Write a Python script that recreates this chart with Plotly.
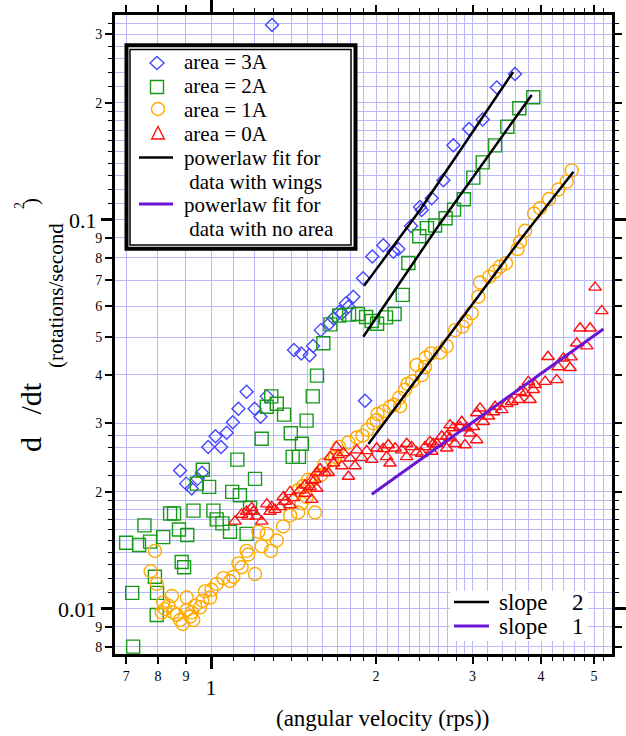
import plotly.graph_objects as go
import math

# ---------------- data ----------------
x_3A = [1.292, 3.586, 3.322, 3.131, 2.957, 2.768, 2.654, 2.527, 2.406, 2.423,
        2.317, 2.197, 2.151, 2.062, 1.969, 1.894, 1.818, 1.763, 1.715, 1.672,
        1.644, 1.586, 1.535, 1.513, 1.461, 1.417, 1.910, 1.781, 1.732, 1.264,
        1.231, 1.201, 1.161, 1.122, 1.096, 1.068, 1.043, 1.019, 0.988, 0.878,
        0.901, 0.922, 0.945, 0.963]
y_3A = [0.317, 0.2374, 0.219, 0.1813, 0.1714, 0.1557, 0.1266, 0.1137, 0.1080, 0.1061,
        0.0965, 0.0842, 0.0829, 0.0861, 0.0806, 0.0708, 0.0635, 0.0611, 0.0581, 0.0559,
        0.0542, 0.0521, 0.0474, 0.0449, 0.0454, 0.0463, 0.0343, 0.0598, 0.0576, 0.0352,
        0.0312, 0.0327, 0.0362, 0.0327, 0.0302, 0.0284, 0.0261, 0.0278, 0.0261, 0.0227,
        0.0210, 0.0204, 0.0216, 0.0224]

x_2A = [3.873, 3.652, 3.472, 3.298, 3.131, 3.010, 2.893, 2.776, 2.679, 2.563,
        2.478, 2.398, 2.291, 2.238, 2.162, 2.086, 2.009, 1.964, 1.918, 1.854,
        1.786, 1.713, 1.651, 1.603, 1.561, 1.533, 1.494, 1.465, 1.447, 1.409,
        1.398, 1.359, 1.318, 1.288, 1.264, 1.237, 1.117, 1.203, 0.992, 0.966,
        0.942, 1.093, 1.129, 1.178, 1.010, 1.024, 1.049, 1.083, 1.161, 0.842,
        0.856, 0.929, 0.874, 0.905, 0.756, 0.818, 0.774, 0.739, 0.700, 0.884,
        0.893, 0.790, 0.797, 0.718, 0.796, 0.721]
y_2A = [0.2068, 0.1937, 0.1736, 0.1555, 0.1406, 0.1285, 0.1131, 0.1063, 0.1010, 0.0968,
        0.0953, 0.0908, 0.0775, 0.0642, 0.0573, 0.0562, 0.0541, 0.0550, 0.0563, 0.0573,
        0.0571, 0.0568, 0.0539, 0.0482, 0.0398, 0.0352, 0.0305, 0.0266, 0.0246, 0.0246,
        0.0283, 0.0316, 0.0337, 0.0352, 0.0331, 0.0274, 0.0242, 0.0216, 0.0206, 0.0228,
        0.0210, 0.0200, 0.0196, 0.0182, 0.0179, 0.0170, 0.0166, 0.0158, 0.0156, 0.0176,
        0.0176, 0.0179, 0.0160, 0.0155, 0.0164, 0.0153, 0.0149, 0.0146, 0.0148, 0.0132,
        0.0128, 0.0121, 0.0110, 0.0110, 0.00965, 0.00800]

x_1A = [4.552, 4.457, 4.303, 4.138, 3.984, 3.885, 3.741, 3.663, 3.624, 3.453,
        3.368, 3.298, 3.220, 3.096, 3.074, 2.990, 2.919, 2.877, 2.788, 2.692,
        2.617, 2.520, 2.465, 2.457, 2.373, 2.423, 2.329, 2.283, 2.259, 2.204,
        2.213, 2.158, 2.121, 2.062, 2.013, 2.006, 1.977, 1.930, 1.890, 1.845,
        1.781, 1.713, 1.684, 1.661, 1.608, 1.588, 1.535, 1.504, 1.472, 1.442,
        1.463, 1.494, 1.548, 1.394, 1.442, 1.354, 1.318, 1.286, 1.264, 1.237,
        1.220, 1.203, 1.169, 1.161, 1.137, 1.122, 1.098, 1.083, 1.053, 1.024,
        1.002, 0.975, 0.996, 0.964, 0.955, 0.935, 0.922, 0.903, 0.903, 0.928,
        0.916, 0.888, 0.878, 0.866, 0.853, 0.848, 0.836, 0.824, 0.813, 0.818,
        0.796, 0.776, 0.790]
y_1A = [0.1341, 0.1255, 0.1198, 0.1132, 0.1072, 0.1039, 0.0938, 0.0879, 0.0842, 0.0774,
        0.0759, 0.0737, 0.0715, 0.0691, 0.0635, 0.0576, 0.0550, 0.0532, 0.0521, 0.0474,
        0.0456, 0.0454, 0.0443, 0.0419, 0.0424, 0.0399, 0.0385, 0.0379, 0.0366, 0.0349,
        0.0332, 0.0335, 0.0331, 0.0322, 0.0317, 0.0306, 0.0300, 0.0289, 0.0279, 0.0276,
        0.0268, 0.0261, 0.0246, 0.0242, 0.0235, 0.0221, 0.0215, 0.0215, 0.0207, 0.0202,
        0.0187, 0.0194, 0.0177, 0.0174, 0.0177, 0.0163, 0.0150, 0.0141, 0.0156, 0.0145,
        0.0158, 0.0123, 0.0138, 0.0141, 0.0128, 0.0131, 0.0121, 0.0118, 0.0120, 0.0116,
        0.0112, 0.0111, 0.0107, 0.0105, 0.0101, 0.0102, 0.0098, 0.0107, 0.00994, 0.00937,
        0.00956, 0.00915, 0.00937, 0.00966, 0.0098, 0.0108, 0.0102, 0.0100, 0.0098, 0.0104,
        0.0116, 0.0125, 0.0141]

x_0A = [5.020, 5.164, 4.714, 4.916, 4.848, 4.648, 4.538, 4.519, 4.395, 4.297,
        4.120, 4.273, 4.069, 3.901, 3.793, 3.874, 3.741, 3.820, 3.663, 3.637,
        3.537, 3.463, 3.392, 3.298, 3.275, 3.206, 3.096, 3.139, 3.053, 3.053,
        3.010, 2.969, 2.928, 2.867, 2.847, 2.907, 2.788, 2.768, 2.729, 2.729,
        2.692, 2.692, 2.636, 2.581, 2.544, 2.527, 2.509, 2.457, 2.423, 2.373,
        2.323, 2.275, 2.275, 2.228, 2.167, 2.121, 2.106, 2.092, 2.062, 2.006,
        1.964, 1.923, 1.883, 1.845, 1.831, 1.793, 1.744, 1.707, 1.695, 1.672,
        1.649, 1.637, 1.732, 1.781, 1.581, 1.614, 1.559, 1.548, 1.527, 1.484,
        1.516, 1.453, 1.484, 1.559, 1.527, 1.413, 1.394, 1.394, 1.365, 1.355,
        1.336, 1.308, 1.290, 1.281, 1.264, 1.237, 1.211, 1.194, 1.186, 1.169,
        1.161, 1.137, 1.106]
y_0A = [0.0671, 0.0584, 0.0527, 0.0527, 0.0474, 0.0482, 0.0444, 0.0417, 0.0441, 0.0419,
        0.0445, 0.0388, 0.0384, 0.0377, 0.0384, 0.0366, 0.0359, 0.0345, 0.0362, 0.0345,
        0.0341, 0.0337, 0.0325, 0.0331, 0.0321, 0.0313, 0.0328, 0.0303, 0.0319, 0.0272,
        0.0294, 0.0283, 0.0292, 0.0303, 0.0294, 0.0264, 0.0266, 0.0292, 0.0297, 0.0275,
        0.0259, 0.0278, 0.0278, 0.0266, 0.0266, 0.0254, 0.0269, 0.0261, 0.0251, 0.0253,
        0.0261, 0.0246, 0.0266, 0.0256, 0.0259, 0.0237, 0.0264, 0.0246, 0.0258, 0.0259,
        0.0242, 0.0255, 0.0245, 0.0256, 0.0233, 0.0244, 0.0252, 0.0249, 0.0261, 0.0237,
        0.0246, 0.0224, 0.0233, 0.0219, 0.0229, 0.0224, 0.0224, 0.0215, 0.0214, 0.0208,
        0.0206, 0.0202, 0.0198, 0.0204, 0.0191, 0.0193, 0.0200, 0.0185, 0.0189, 0.0194,
        0.0183, 0.0180, 0.0183, 0.0178, 0.0186, 0.0168, 0.0173, 0.0178, 0.0182, 0.0173,
        0.0178, 0.0175, 0.0168]

# power-law fit lines
fit3A_x = [1.902, 2.406, 3.557]
fit3A_y = [0.0677, 0.1061, 0.2402]
fit2A_x = [1.896, 2.617, 3.847]
fit2A_y = [0.0501, 0.0980, 0.2096]
fit1A_x = [1.937, 3.664, 4.584]
fit1A_y = [0.02655, 0.0888, 0.1331]
fit0A_x = [1.965, 3.664, 5.199]
fit0A_y = [0.01971, 0.0369, 0.05246]

# legend texts
legend_main = ['area = 3A', 'area = 2A', 'area = 1A', 'area = 0A',
               'powerlaw fit for', ' data with wings',
               'powerlaw fit for', ' data with no area']
legend_slope_label = 'slope'
legend_slope_values = ['2', '1']

# axis ticks / grid
x_range_vals = [0.668, 5.39]
y_range_vals = [0.00766, 0.3365]
x_label_vals = [0.7, 0.8, 0.9, 2, 3, 4, 5]
x_label_text = ['7', '8', '9', '2', '3', '4', '5']
x_major_vals = [1]
x_major_text = ['1']
x_minor_vals = [1.1, 1.2, 1.3, 1.4, 1.5, 1.6, 1.7, 1.8, 1.9, 2.2, 2.4, 2.6, 2.8,
                3.2, 3.4, 3.6, 3.8, 4.2, 4.4, 4.6, 4.8, 5.2]
x_grid_vals = ([0.7, 0.8, 0.9] + [round(1.0 + 0.1 * i, 2) for i in range(21)]
               + [3.2, 3.4, 3.6, 3.8, 4.0, 4.2, 4.4, 4.6, 4.8, 5.0, 5.2])

y_label_vals = [0.008, 0.009, 0.02, 0.03, 0.04, 0.05, 0.06, 0.07, 0.08, 0.09, 0.2, 0.3]
y_label_text = ['8', '9', '2', '3', '4', '5', '6', '7', '8', '9', '2', '3']
y_major_vals = [0.01, 0.1]
y_major_text = ['0.01', '0.1']
y_minor_vals = ([0.011, 0.012, 0.013, 0.014, 0.015, 0.016, 0.017, 0.018, 0.019]
                + [0.022, 0.024, 0.026, 0.028]
                + [0.11, 0.12, 0.13, 0.14, 0.15, 0.16, 0.17, 0.18, 0.19]
                + [0.22, 0.24, 0.26, 0.28, 0.32])
y_grid_vals = ([0.008, 0.009, 0.010, 0.011, 0.012, 0.013, 0.014, 0.015, 0.016, 0.017, 0.018, 0.019]
               + [0.020, 0.022, 0.024, 0.026, 0.028]
               + [0.03, 0.04, 0.05, 0.06, 0.07, 0.08, 0.09]
               + [0.10, 0.11, 0.12, 0.13, 0.14, 0.15, 0.16, 0.17, 0.18, 0.19]
               + [0.20, 0.22, 0.24, 0.26, 0.28, 0.30, 0.32])

# ---------------- styling ----------------
FONT = "Liberation Serif"
W, H = 626, 736
ML, MR, MT, MB = 115, 14, 15, 82
PW, PH = W - ML - MR, H - MT - MB


def px_x(px):
    return (px - ML) / PW


def px_y(py):
    return (H - MB - py) / PH


xr = [math.log10(v) for v in x_range_vals]
yr = [math.log10(v) for v in y_range_vals]

BLUE = '#4646ff'
GREEN = '#179a17'
ORANGE = '#ffaa00'
RED = '#ff1010'
PURPLE = '#6a16d2'
GRID = '#b9b9fb'

fig = go.Figure()


def add_markers(x, y, name, symbol, color, size):
    fig.add_trace(go.Scatter(
        x=x, y=y, mode='markers', name=name, showlegend=False,
        marker=dict(symbol=symbol, size=size, color=color, line=dict(color=color, width=1.4))))


add_markers(x_3A, y_3A, 'area = 3A', 'diamond-open', BLUE, 10)
add_markers(x_2A, y_2A, 'area = 2A', 'square-open', GREEN, 13)
add_markers(x_1A, y_1A, 'area = 1A', 'circle-open', ORANGE, 13)
add_markers(x_0A, y_0A, 'area = 0A', 'triangle-up-open', RED, 11)

for fx, fy, nm, col, wd in [(fit3A_x, fit3A_y, 'powerlaw fit (3A)', 'black', 2.5),
                            (fit2A_x, fit2A_y, 'powerlaw fit (2A)', 'black', 2.5),
                            (fit1A_x, fit1A_y, 'powerlaw fit (1A)', 'black', 2.5),
                            (fit0A_x, fit0A_y, 'powerlaw fit (0A)', PURPLE, 3)]:
    fig.add_trace(go.Scatter(x=fx, y=fy, mode='lines', name=nm, showlegend=False,
                             line=dict(color=col, width=wd)))

# empty helper traces so the overlaying tick axes are drawn
for xa, ya in [('x2', 'y'), ('x3', 'y'), ('x', 'y2'), ('x', 'y3')]:
    fig.add_trace(go.Scatter(x=[None], y=[None], xaxis=xa, yaxis=ya, mode='markers',
                             showlegend=False, hoverinfo='skip'))

tickfont_small = dict(family=FONT, size=14, color='black')
tickfont_big = dict(family=FONT, size=22, color='black')

fig.update_layout(
    width=W, height=H,
    margin=dict(l=ML, r=MR, t=MT, b=MB, autoexpand=False),
    paper_bgcolor='white', plot_bgcolor='white',
    font=dict(family=FONT, color='black'),
    showlegend=False,
    xaxis=dict(type='log', range=xr, tickmode='array', tickvals=x_grid_vals,
               showticklabels=False, ticks='', showgrid=True, gridcolor=GRID,
               gridwidth=1, zeroline=False, showline=False, automargin=False),
    yaxis=dict(type='log', range=yr, tickmode='array', tickvals=y_grid_vals,
               showticklabels=False, ticks='', showgrid=True, gridcolor=GRID,
               gridwidth=1, zeroline=False, showline=False, automargin=False),
    xaxis2=dict(type='log', range=xr, overlaying='x', anchor='y', side='bottom',
                tickmode='array', tickvals=x_label_vals, ticktext=x_label_text,
                ticks='outside', ticklen=7, tickwidth=1.5, tickcolor='black',
                showline=True, linewidth=3, linecolor='black', mirror='ticks',
                showgrid=False, zeroline=False, tickfont=tickfont_small, automargin=False,
                minor=dict(tickmode='array', tickvals=x_minor_vals, ticks='outside',
                           ticklen=4, tickwidth=1.2, tickcolor='black', showgrid=False)),
    xaxis3=dict(type='log', range=xr, overlaying='x', anchor='y', side='bottom',
                tickmode='array', tickvals=x_major_vals, ticktext=x_major_text,
                ticks='outside', ticklen=14, tickwidth=2.5, tickcolor='black',
                showline=False, mirror='ticks', showgrid=False, zeroline=False,
                tickfont=tickfont_big, automargin=False),
    yaxis2=dict(type='log', range=yr, overlaying='y', anchor='x', side='left',
                tickmode='array', tickvals=y_label_vals, ticktext=y_label_text,
                ticks='outside', ticklen=7, tickwidth=1.5, tickcolor='black',
                showline=True, linewidth=3, linecolor='black', mirror='ticks',
                showgrid=False, zeroline=False, tickfont=tickfont_small, automargin=False,
                minor=dict(tickmode='array', tickvals=y_minor_vals, ticks='outside',
                           ticklen=4, tickwidth=1.2, tickcolor='black', showgrid=False)),
    yaxis3=dict(type='log', range=yr, overlaying='y', anchor='x', side='left',
                tickmode='array', tickvals=y_major_vals, ticktext=y_major_text,
                ticks='outside', ticklen=13, tickwidth=2.5, tickcolor='black',
                showline=False, mirror='ticks', showgrid=False, zeroline=False,
                tickfont=tickfont_big, automargin=False),
)


def shp(**kw):
    kw.setdefault('xref', 'paper')
    kw.setdefault('yref', 'paper')
    kw.setdefault('layer', 'above')
    fig.add_shape(**kw)


def ann(text, px, py, size, anchor='left', angle=0):
    fig.add_annotation(text=text, xref='paper', yref='paper', x=px_x(px), y=px_y(py),
                       xanchor=anchor, yanchor='middle', showarrow=False, textangle=angle,
                       font=dict(family=FONT, size=size, color='black'))


def path(points):
    return 'M ' + ' L '.join('%.5f,%.5f' % (px_x(a), px_y(b)) for a, b in points) + ' Z'


# ---- main legend: double-bordered white box ----
shp(type='rect', x0=px_x(126.5), x1=px_x(355.5), y0=px_y(248.8), y1=px_y(45.3),
    line=dict(color='black', width=4), fillcolor='white')
shp(type='rect', x0=px_x(130), x1=px_x(351), y0=px_y(245), y1=px_y(49.5),
    line=dict(color='black', width=1.5), fillcolor='rgba(0,0,0,0)')
# legend symbols
shp(type='path', path=path([(150, 63), (157, 56.5), (164, 63), (157, 69.5)]),
    line=dict(color=BLUE, width=1.4))
shp(type='rect', x0=px_x(150.5), x1=px_x(163.5), y0=px_y(93.5), y1=px_y(80.5),
    line=dict(color=GREEN, width=1.4))
shp(type='circle', x0=px_x(151.5), x1=px_x(164.5), y0=px_y(115.5), y1=px_y(102.5),
    line=dict(color=ORANGE, width=1.4))
shp(type='path', path=path([(158, 126.5), (164.3, 139), (151.7, 139)]),
    line=dict(color=RED, width=1.4))
shp(type='line', x0=px_x(139), x1=px_x(173), y0=px_y(157.5), y1=px_y(157.5),
    line=dict(color='black', width=2.5))
shp(type='line', x0=px_x(139), x1=px_x(173), y0=px_y(204), y1=px_y(204),
    line=dict(color=PURPLE, width=3))
for txt, yy in zip(legend_main, [62, 86, 110, 134, 158, 181.5, 205, 228.5]):
    ann(txt, 182, yy, 21)

# ---- slope legend ----
shp(type='rect', x0=px_x(450), x1=px_x(588), y0=px_y(641), y1=px_y(591),
    line=dict(width=0), fillcolor='white')
shp(type='line', x0=px_x(454), x1=px_x(489), y0=px_y(602), y1=px_y(602),
    line=dict(color='black', width=2.5))
shp(type='line', x0=px_x(454), x1=px_x(489), y0=px_y(626), y1=px_y(626),
    line=dict(color=PURPLE, width=3))
for val, yy in zip(legend_slope_values, [602, 626]):
    ann(legend_slope_label, 497, yy, 23)
    ann(val, 578, yy, 23, anchor='center')

# ---- axis titles ----
ann('(angular velocity (rps))', 382.5, 718, 23, anchor='center')
ann('d   /dt', 30, 417, 30, anchor='center', angle=-90)
ann('(rotations/second', 56, 296, 21, anchor='center', angle=-90)
ann('2', 19, 206, 14, anchor='center', angle=-90)
ann(')', 31, 202, 21, anchor='center', angle=-90)

fig.write_html("out.html")
